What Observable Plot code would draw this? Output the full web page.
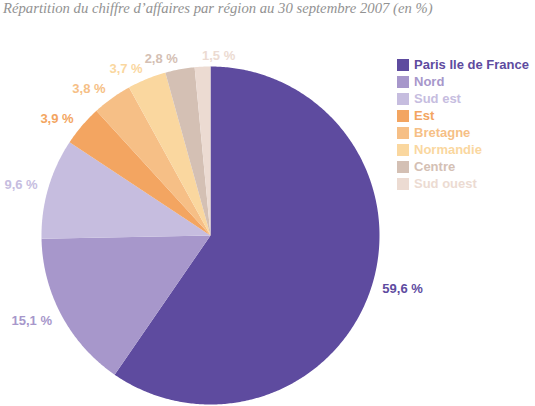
<!DOCTYPE html>
<html>
<head>
<meta charset="utf-8">
<script src="https://cdn.jsdelivr.net/npm/d3@7"></script>
<script src="https://cdn.jsdelivr.net/npm/@observablehq/plot@0.6"></script>
<style>
  html, body { margin: 0; padding: 0; background: #fff; }
  #page { position: relative; width: 535px; height: 406px; overflow: hidden; }
  #title { height: 22px; font: italic 14.7px "Liberation Serif", "DejaVu Serif", serif; color: #929292; padding-left: 3px; line-height: 17px; white-space: nowrap; }
  #legend { position: absolute; left: 397px; top: 56px; font: bold 13px "Liberation Sans", Arial, sans-serif; }
  #legend .row { display: flex; align-items: center; height: 17px; }
  #legend .sw { width: 12px; height: 12px; margin-right: 5px; flex: none; }
</style>
</head>
<body>
<div id="page">
  <div id="title">Répartition du chiffre d’affaires par région au 30 septembre 2007 (en %)</div>
  <div id="chart"></div>
  <div id="legend"></div>
</div>
<script>
const regions = ["Paris Ile de France", "Nord", "Sud est", "Est", "Bretagne", "Normandie", "Centre", "Sud ouest"];
const shares = [59.6, 15.1, 9.6, 3.9, 3.8, 3.7, 2.8, 1.5];
const shareLabels = ["59,6 %", "15,1 %", "9,6 %", "3,9 %", "3,8 %", "3,7 %", "2,8 %", "1,5 %"];
const colors = ["#5e4b9f", "#a797cb", "#c6bddf", "#f3a561", "#f6bf86", "#fad79f", "#d4c0b4", "#ecdbd2"];

const rows = regions.map((r, i) => ({region: r, value: shares[i], label: shareLabels[i]}));
const arcs = d3.pie().sort(null).value(d => d.value).startAngle(0).endAngle(2 * Math.PI)(rows);

// polygon vertices for each slice (unit circle, angle clockwise from top)
const pts = [];
arcs.forEach(a => {
  const region = a.data.region;
  pts.push({region, x: 0, y: 0});
  const n = Math.max(2, Math.ceil((a.endAngle - a.startAngle) / 0.01));
  for (let k = 0; k <= n; k++) {
    const t = a.startAngle + (a.endAngle - a.startAngle) * k / n;
    pts.push({region, x: Math.sin(t), y: Math.cos(t)});
  }
  pts.push({region, x: 0, y: 0});
});

const labelR = 1.065;
const labelPts = arcs.map(a => {
  const m = (a.startAngle + a.endAngle) / 2;
  const s = Math.sin(m);
  return {region: a.data.region, label: a.data.label, x: labelR * s, y: labelR * Math.cos(m),
          anchor: s < -0.1 ? "end" : "start"};
});

const textOpts = {x: "x", y: "y", text: "label", fill: "region", fontSize: 13, fontWeight: "bold",
  fontFamily: "Liberation Sans, Arial, sans-serif"};

const plot = Plot.plot({
  width: 535,
  height: 384,
  margin: 0,
  x: {domain: [-1, 1], range: [41, 379], axis: null},
  y: {domain: [-1, 1], range: [382, 44], axis: null},
  color: {domain: regions, range: colors},
  style: {background: "transparent", overflow: "visible"},
  marks: [
    Plot.line(pts, {x: "x", y: "y", z: "region", fill: "region", stroke: "none", curve: "linear"}),
    Plot.text(labelPts.filter(d => d.anchor === "end"), {...textOpts, textAnchor: "end"}),
    Plot.text(labelPts.filter(d => d.anchor === "start"), {...textOpts, textAnchor: "start"})
  ]
});
document.getElementById("chart").appendChild(plot);

const legend = d3.select("#legend");
regions.forEach((r, i) => {
  const row = legend.append("div").attr("class", "row");
  row.append("div").attr("class", "sw").style("background", colors[i]);
  row.append("span").style("color", colors[i]).text(r);
});
</script>
</body>
</html>
